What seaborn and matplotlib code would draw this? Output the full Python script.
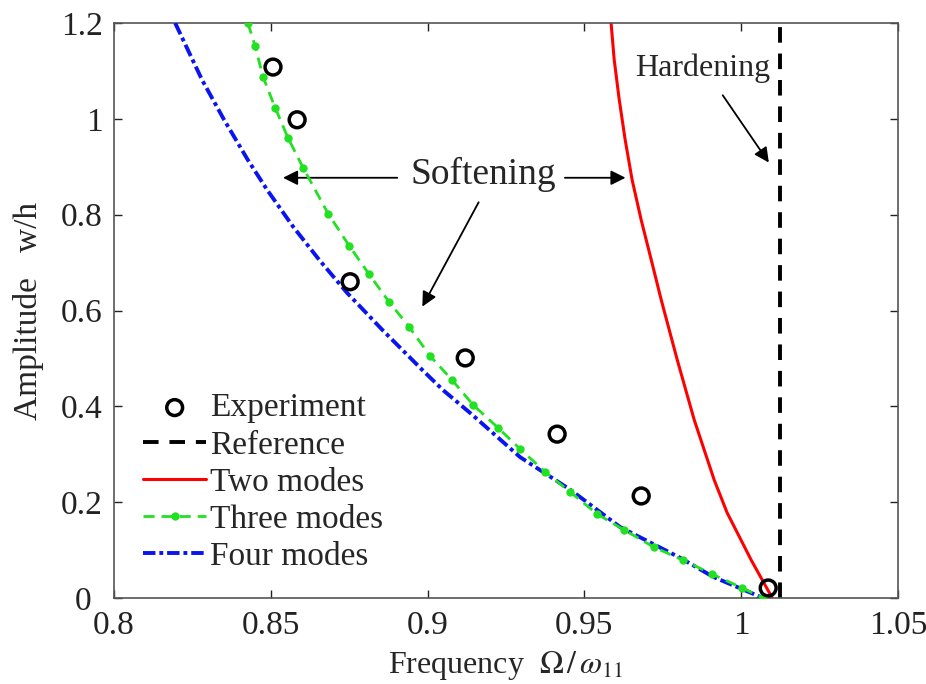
import numpy as np
import pandas as pd
import seaborn as sns
import matplotlib.pyplot as plt
from matplotlib.ticker import FormatStrFormatter
from matplotlib.transforms import ScaledTranslation

# experiment points
exp_x = [0.8507, 0.8584, 0.8753, 0.9120, 0.9413, 0.9681, 1.0086]
exp_y = [1.108, 0.998, 0.660, 0.501, 0.342, 0.213, 0.021]

# reference (linear) frequency
ref_x = [1.0124, 1.0124]
ref_y = [0.0, 1.2]

# two modes
two_x = [0.9585, 0.9595, 0.9611, 0.9630, 0.9652, 0.9681, 0.9713, 0.9745, 0.9796,
         0.9850, 0.9914, 0.9955, 1.0032, 1.0099]
two_y = [1.200, 1.123, 1.040, 0.956, 0.873, 0.789, 0.706, 0.622, 0.497,
         0.372, 0.246, 0.178, 0.079, 0.000]

# three modes
three_x = [0.8427, 0.8450, 0.8475, 0.8514, 0.8555, 0.8603, 0.8683, 0.8750, 0.8813, 0.8877,
           0.8941, 0.9008, 0.9078, 0.9145, 0.9225, 0.9295, 0.9375, 0.9455, 0.9541, 0.9627,
           0.9722, 0.9815, 0.9907, 1.0003, 1.0070]
three_y = [1.200, 1.152, 1.088, 1.023, 0.960, 0.898, 0.802, 0.735, 0.676, 0.618,
           0.566, 0.505, 0.455, 0.403, 0.355, 0.311, 0.263, 0.221, 0.175, 0.142,
           0.106, 0.079, 0.050, 0.021, 0.000]

# four modes
four_x = [0.8195, 0.8281, 0.8351, 0.8427, 0.8488, 0.8571, 0.8654, 0.8743, 0.8855, 0.8983,
          0.9049, 0.9136, 0.9295, 0.9455, 0.9614, 0.9805, 0.9911, 1.0070]
four_y = [1.200, 1.081, 0.998, 0.914, 0.852, 0.775, 0.706, 0.637, 0.560, 0.476,
          0.434, 0.386, 0.294, 0.226, 0.148, 0.084, 0.044, 0.000]

sns.set_style("ticks")
plt.rcParams['font.family'] = ['Liberation Serif', 'DejaVu Serif']
plt.rcParams['mathtext.fontset'] = 'stix'

fig = plt.figure(figsize=(9.26, 6.84), dpi=100)
ax = fig.add_axes([0.1231, 0.1257, 0.8467, 0.8407])

sns.scatterplot(x=exp_x, y=exp_y, ax=ax, marker='o', s=130, facecolors='none',
                edgecolors='black', linewidths=2.5, label='Experiment', zorder=5)
sns.lineplot(x=ref_x, y=ref_y, ax=ax, estimator=None, sort=False, color='black',
             linewidth=2.8, dashes=(4, 2.8), label='Reference')
sns.lineplot(x=two_x, y=two_y, ax=ax, estimator=None, sort=False, color='#ff0000',
             linewidth=2.2, label='Two modes')
sns.lineplot(x=three_x, y=three_y, ax=ax, estimator=None, sort=False, color='#22e022',
             linewidth=2.0, dashes=(4, 2.5), marker='o', markersize=6,
             markeredgewidth=0, label='Three modes', zorder=4)
sns.lineplot(x=four_x, y=four_y, ax=ax, estimator=None, sort=False, color='#0a14f0',
             linewidth=2.8, dashes=(3.2, 1.0, 1.0, 1.0), label='Four modes', zorder=3)

ax.set_xlim(0.8, 1.05)
ax.set_ylim(0, 1.2)
ax.set_xticks([0.8, 0.85, 0.9, 0.95, 1.0, 1.05])
ax.set_yticks([0, 0.2, 0.4, 0.6, 0.8, 1.0, 1.2])
ax.xaxis.set_major_formatter(FormatStrFormatter('%g'))
ax.yaxis.set_major_formatter(FormatStrFormatter('%g'))
ax.tick_params(direction='in', top=True, right=True, length=6, width=1,
               labelsize=24, colors='#222222')
ax.tick_params(axis='x', pad=9)
ax.tick_params(axis='y', pad=8)
for sp in ax.spines.values():
    sp.set_color('#555555')
    sp.set_linewidth(1.2)

# the "0" on the y axis sits a bit further left, clear of "0.8"
fig.canvas.draw()
zero_lbl = ax.get_yticklabels()[0]
zero_lbl.set_transform(zero_lbl.get_transform() + ScaledTranslation(-0.12, 0, fig.dpi_scale_trans))

ax.set_xlabel(r'Frequency  $\Omega\,/\,\omega_{11}$', fontsize=23, labelpad=6)
ax.set_ylabel('Amplitude   w/h', fontsize=24, labelpad=12)

# annotations
ax.text(0.9177, 0.883, 'Softening', fontsize=27, ha='center', va='center')
arr = dict(arrowstyle='-|>', color='black', lw=1.3, mutation_scale=22)
ax.annotate('', xy=(0.853, 0.877), xytext=(0.8912, 0.877), arrowprops=arr)
ax.annotate('', xy=(0.964, 0.877), xytext=(0.9429, 0.877), arrowprops=arr)
ax.annotate('', xy=(0.8979, 0.603), xytext=(0.9167, 0.831), arrowprops=arr)
ax.text(0.9876, 1.106, 'Hardening', fontsize=23, ha='center', va='center')
ax.annotate('', xy=(1.0093, 0.904), xytext=(0.9936, 1.054), arrowprops=arr)

handles, labels = ax.get_legend_handles_labels()
ax.legend(handles, labels, loc='upper left', bbox_to_anchor=(0.02, 0.38),
          frameon=False, fontsize=24, handlelength=1.9, handletextpad=0.1,
          labelspacing=0.2, borderaxespad=0)

fig.savefig('out.png', dpi=100)
